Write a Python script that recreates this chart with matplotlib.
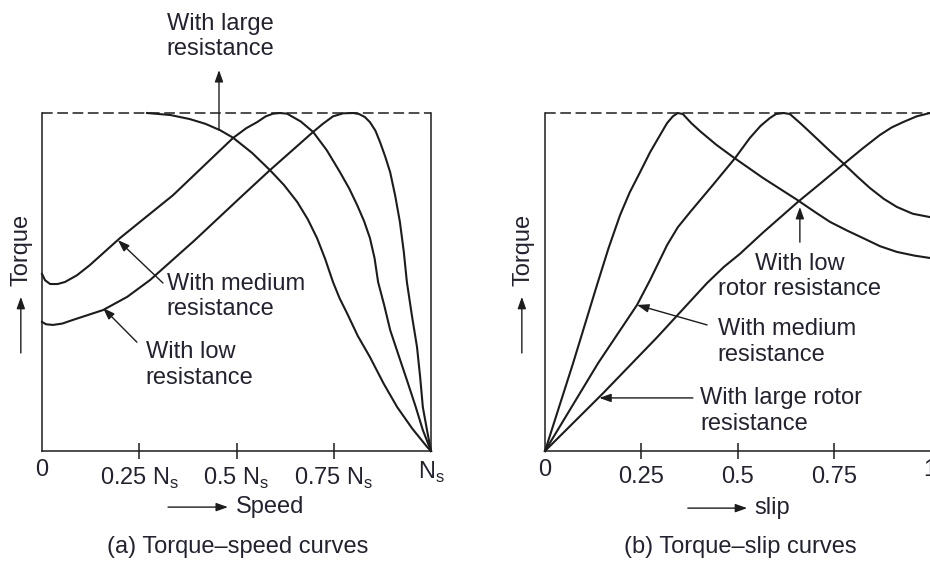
import matplotlib; matplotlib.use("Agg")
import matplotlib.pyplot as plt

plt.rcParams["font.family"] = ["Liberation Sans", "DejaVu Sans"]
plt.rcParams["mathtext.fontset"] = "custom"
plt.rcParams["mathtext.rm"] = "Liberation Sans"

INK = "#1c1c1c"
TXT = "#222230"
FS = 17

# (a) torque-speed, x = speed / Ns, y = torque / Tmax
speed_large = [0.270, 0.330, 0.380, 0.420, 0.458, 0.491, 0.540, 0.586, 0.622, 0.656, 0.683, 0.707,
               0.728, 0.748, 0.765, 0.784, 0.812, 0.843, 0.878, 0.913, 0.952, 0.990, 1.0]
torque_large = [1.000, 0.994, 0.982, 0.968, 0.949, 0.927, 0.882, 0.831, 0.787, 0.737, 0.686, 0.630,
                0.568, 0.500, 0.452, 0.408, 0.340, 0.278, 0.200, 0.130, 0.066, 0.012, 0.0]

speed_medium = [0.0, 0.008, 0.021, 0.040, 0.059, 0.090, 0.123, 0.2005, 0.337, 0.491, 0.525, 0.553,
                0.575, 0.594, 0.612, 0.630, 0.665, 0.697, 0.732, 0.766, 0.790, 0.810, 0.828, 0.843,
                0.855, 0.864, 0.880, 0.895, 0.917, 0.938, 0.960, 0.979, 1.0]
torque_medium = [0.524, 0.505, 0.494, 0.494, 0.500, 0.520, 0.550, 0.630, 0.757, 0.926, 0.955, 0.973,
                 0.990, 0.998, 1.0, 0.998, 0.975, 0.944, 0.890, 0.825, 0.776, 0.728, 0.680, 0.630,
                 0.570, 0.500, 0.430, 0.358, 0.282, 0.210, 0.133, 0.062, 0.0]

speed_low = [0.0, 0.010, 0.028, 0.052, 0.080, 0.157, 0.219, 0.278, 0.393, 0.509, 0.586, 0.697,
             0.722, 0.748, 0.774, 0.800, 0.815, 0.830, 0.843, 0.857, 0.869, 0.882, 0.895, 0.908,
             0.920, 0.930, 0.938, 0.951, 0.964, 0.972, 0.979, 0.990, 1.0]
torque_low = [0.382, 0.375, 0.373, 0.377, 0.388, 0.417, 0.456, 0.506, 0.624, 0.749, 0.831, 0.944,
              0.968, 0.990, 0.999, 1.0, 0.997, 0.988, 0.973, 0.948, 0.914, 0.872, 0.825, 0.755,
              0.678, 0.590, 0.500, 0.400, 0.308, 0.220, 0.130, 0.060, 0.0]

# (b) torque-slip
slip_low = [0.0, 0.073, 0.135, 0.165, 0.195, 0.220, 0.247, 0.273, 0.299, 0.317, 0.332, 0.345,
            0.358, 0.380, 0.403, 0.445, 0.488, 0.566, 0.655, 0.700, 0.740, 0.785, 0.826, 0.870,
            0.914, 0.960, 1.0]
tslip_low = [0.0, 0.260, 0.491, 0.600, 0.698, 0.765, 0.825, 0.884, 0.935, 0.970, 0.990, 1.0,
             0.997, 0.970, 0.946, 0.906, 0.870, 0.808, 0.743, 0.708, 0.678, 0.652, 0.630, 0.606,
             0.589, 0.578, 0.571]

slip_medium = [0.0, 0.138, 0.239, 0.273, 0.317, 0.345, 0.377, 0.436, 0.494, 0.532, 0.560, 0.584,
               0.600, 0.620, 0.636, 0.665, 0.696, 0.735, 0.774, 0.810, 0.844, 0.880, 0.914, 0.955, 1.0]
tslip_medium = [0.0, 0.260, 0.432, 0.506, 0.609, 0.662, 0.707, 0.787, 0.867, 0.926, 0.962, 0.985,
                0.997, 1.0, 0.997, 0.968, 0.935, 0.893, 0.852, 0.813, 0.778, 0.746, 0.722, 0.702, 0.692]

slip_large = [0.0, 0.150, 0.290, 0.421, 0.465, 0.506, 0.566, 0.657, 0.720, 0.779, 0.826,
              0.870, 0.900, 0.930, 0.965, 1.0]
tslip_large = [0.0, 0.170, 0.335, 0.497, 0.545, 0.583, 0.646, 0.737, 0.796, 0.852, 0.896,
               0.935, 0.957, 0.973, 0.990, 1.0]

speed_ticks = [0, 0.25, 0.5, 0.75, 1]
speed_labels = ["0", r"0.25 N$_\mathregular{s}$", r"0.5 N$_\mathregular{s}$",
                r"0.75 N$_\mathregular{s}$", r"N$_\mathregular{s}$"]
slip_ticks = [0, 0.25, 0.5, 0.75, 1]
slip_labels = ["0", "0.25", "0.5", "0.75", "1"]

W, H = 930, 565


def frame(ax, ticks, labels, show_right):
    ax.set_xlim(0, 1)
    ax.set_ylim(0, 1)
    ax.set_yticks([])
    for side in ["left", "bottom", "right"]:
        ax.spines[side].set_linewidth(1.1)
        ax.spines[side].set_color(INK)
    ax.spines["top"].set_visible(False)
    ax.spines["right"].set_visible(show_right)
    ax.axhline(1, color=INK, lw=1.1, ls=(0, (7, 3)), clip_on=False)
    ax.set_xticks(ticks, labels)
    ax.tick_params(axis="x", direction="inout", length=12, width=1.1, color=INK,
                   labelsize=FS, labelcolor=TXT, pad=5)
    tk = ax.xaxis.get_major_ticks()
    for t in (tk[0], tk[-1]):
        t.tick1line.set_visible(False)
        t.set_pad(0)


def arrow(ax, start, tip):
    ax.annotate("", xy=tip, xytext=start, annotation_clip=False,
                arrowprops=dict(arrowstyle="-|>,head_length=0.7,head_width=0.25",
                                mutation_scale=10, lw=1.0, color=INK,
                                shrinkA=0, shrinkB=0))


fig = plt.figure(figsize=(W / 100, H / 100), dpi=100)
ax1 = fig.add_axes([42 / W, 114 / H, 389 / W, 338 / H])
ax2 = fig.add_axes([545 / W, 114 / H, 385 / W, 338 / H])

frame(ax1, speed_ticks, speed_labels, True)
frame(ax2, slip_ticks, slip_labels, False)

for x, y in [(speed_large, torque_large), (speed_medium, torque_medium), (speed_low, torque_low)]:
    ax1.plot(x, y, color=INK, lw=1.5, clip_on=False, solid_joinstyle="round")
for x, y in [(slip_low, tslip_low), (slip_medium, tslip_medium), (slip_large, tslip_large)]:
    ax2.plot(x, y, color=INK, lw=1.5, clip_on=False, solid_joinstyle="round")

# annotations (a)
ax1.text(0.458, 1.296, "With large\nresistance", ha="center", va="top", fontsize=FS, color=TXT)
arrow(ax1, (0.455, 0.950), (0.455, 1.127))
ax1.text(0.321, 0.527, "With medium\nresistance", ha="left", va="top", fontsize=FS, color=TXT)
arrow(ax1, (0.311, 0.497), (0.195, 0.624))
ax1.text(0.267, 0.325, "With low\nresistance", ha="left", va="top", fontsize=FS, color=TXT)
arrow(ax1, (0.244, 0.322), (0.157, 0.423))

# annotations (b)
ax2.text(0.662, 0.586, "With low\nrotor resistance", ha="center", va="top",
         multialignment="center", fontsize=FS, color=TXT)
arrow(ax2, (0.662, 0.618), (0.662, 0.722))
ax2.text(0.449, 0.393, "With medium\nresistance", ha="left", va="top", fontsize=FS, color=TXT)
arrow(ax2, (0.421, 0.373), (0.239, 0.432))
ax2.text(0.403, 0.189, "With large rotor\nresistance", ha="left", va="top", fontsize=FS, color=TXT)
arrow(ax2, (0.384, 0.157), (0.141, 0.157))

# axis names with arrows
for ax in (ax1, ax2):
    tx = (22 - 42) / 389 if ax is ax1 else (523 - 545) / 385
    ax.text(tx, 0.595, "Torque", rotation=90, ha="center", va="center",
            fontsize=FS, color=TXT, transform=ax.transAxes)
    arrow(ax, (tx - 0.003, 0.290), (tx - 0.003, 0.456))

arrow(ax1, (0.324, -0.166), (0.478, -0.166))
ax1.text(0.499, -0.166, "Speed", ha="left", va="center", fontsize=FS, color=TXT)
arrow(ax2, (0.371, -0.169), (0.525, -0.169))
ax2.text(0.545, -0.169, "slip", ha="left", va="center", fontsize=FS, color=TXT)

fig.text(238 / W, 1 - 536 / H, "(a) Torque\u2013speed curves", ha="center", va="top",
         fontsize=FS, color=TXT)
fig.text(740 / W, 1 - 536 / H, "(b) Torque\u2013slip curves", ha="center", va="top",
         fontsize=FS, color=TXT)

fig.savefig("out.png", dpi=100)
